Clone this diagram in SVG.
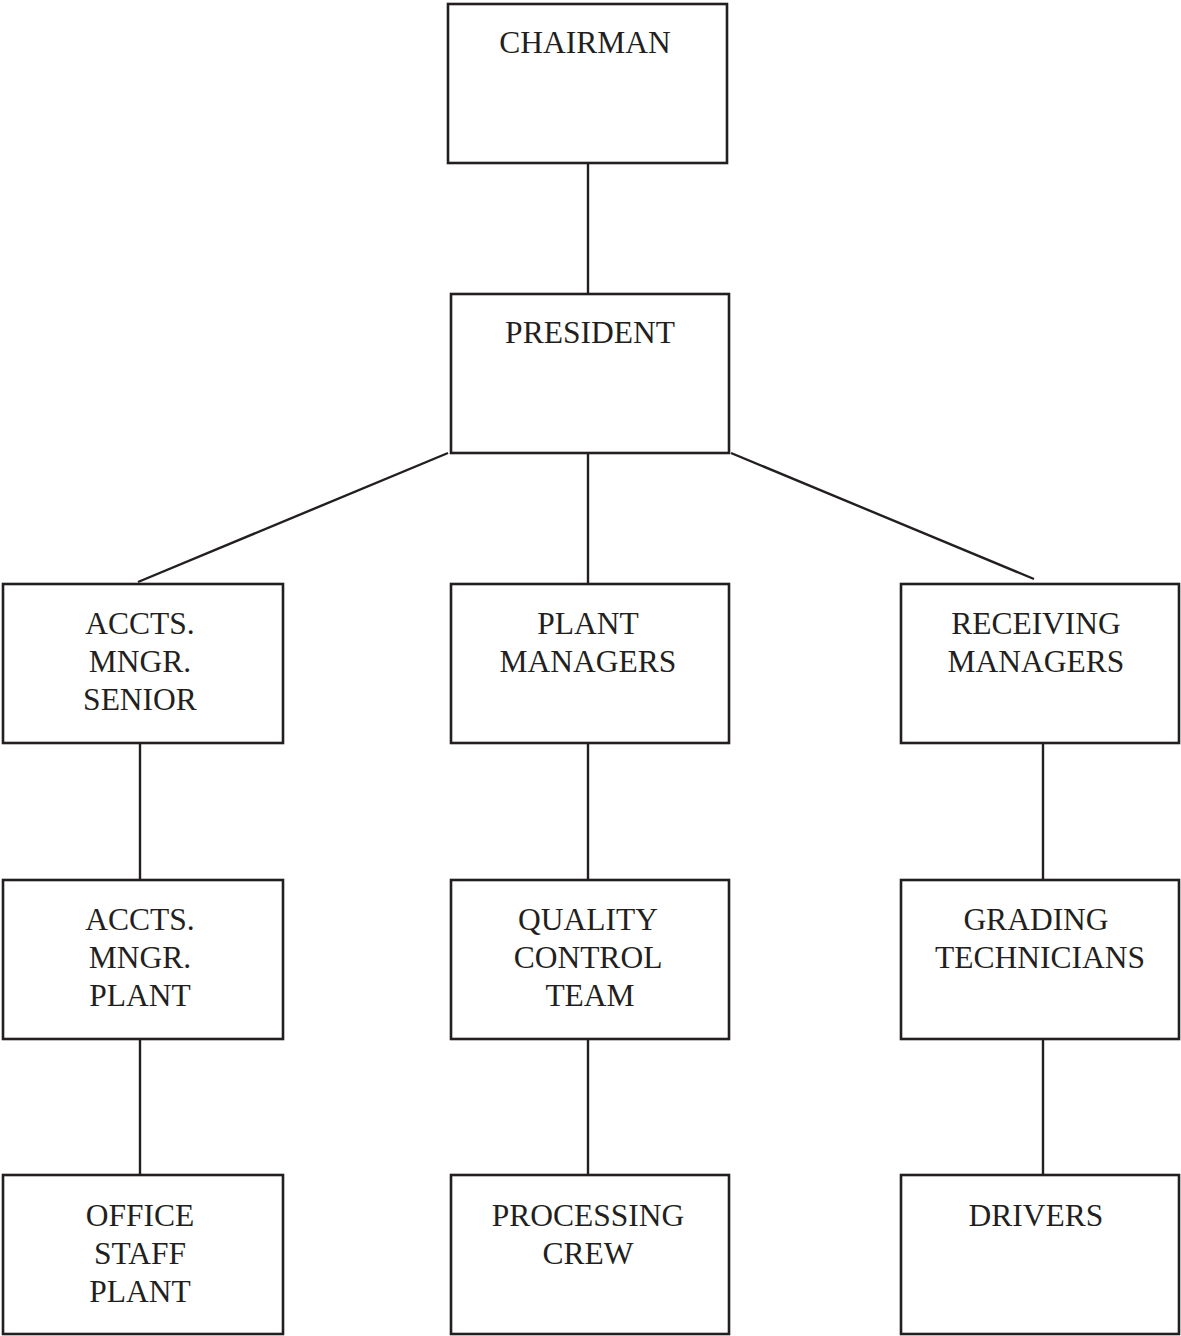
<svg xmlns="http://www.w3.org/2000/svg" width="1181" height="1336" viewBox="0 0 1181 1336">
<style>
.box{fill:#fff;stroke:#231f20;stroke-width:2.6}
.ln{stroke:#231f20;stroke-width:2.4;fill:none}
text{font-family:"Liberation Serif","Times New Roman",serif;font-size:31.5px;fill:#231f20;text-anchor:middle}
</style>
<rect width="1181" height="1336" fill="#fff"/>
<g id="connectors">
<line class="ln" x1="588" y1="163" x2="588" y2="294"/>
<line class="ln" x1="448" y1="453" x2="138" y2="582"/>
<line class="ln" x1="588" y1="453" x2="588" y2="584"/>
<line class="ln" x1="731" y1="453" x2="1034" y2="579"/>
<line class="ln" x1="140" y1="743" x2="140" y2="880"/>
<line class="ln" x1="588" y1="743" x2="588" y2="880"/>
<line class="ln" x1="1043" y1="743" x2="1043" y2="880"/>
<line class="ln" x1="140" y1="1039" x2="140" y2="1175"/>
<line class="ln" x1="588" y1="1039" x2="588" y2="1175"/>
<line class="ln" x1="1043" y1="1039" x2="1043" y2="1175"/>
</g>
<g id="chairman"><rect class="box" x="448" y="4" width="279" height="159"/><text x="585" y="53">CHAIRMAN</text></g>
<g id="president"><rect class="box" x="451" y="294" width="278" height="159"/><text x="590" y="343">PRESIDENT</text></g>
<g id="accts-senior"><rect class="box" x="3" y="584" width="280" height="159"/><text x="140" y="634">ACCTS.</text><text x="140" y="672">MNGR.</text><text x="140" y="710">SENIOR</text></g>
<g id="plant-managers"><rect class="box" x="451" y="584" width="278" height="159"/><text x="588" y="634">PLANT</text><text x="588" y="672">MANAGERS</text></g>
<g id="receiving-managers"><rect class="box" x="901" y="584" width="278" height="159"/><text x="1036" y="634">RECEIVING</text><text x="1036" y="672">MANAGERS</text></g>
<g id="accts-plant"><rect class="box" x="3" y="880" width="280" height="159"/><text x="140" y="930">ACCTS.</text><text x="140" y="968">MNGR.</text><text x="140" y="1006">PLANT</text></g>
<g id="quality-control"><rect class="box" x="451" y="880" width="278" height="159"/><text x="588" y="930">QUALITY</text><text x="588" y="968">CONTROL</text><text x="590" y="1006">TEAM</text></g>
<g id="grading"><rect class="box" x="901" y="880" width="278" height="159"/><text x="1036" y="930">GRADING</text><text x="1040" y="968">TECHNICIANS</text></g>
<g id="office-staff"><rect class="box" x="3" y="1175" width="280" height="159"/><text x="140" y="1226">OFFICE</text><text x="140" y="1264">STAFF</text><text x="140" y="1302">PLANT</text></g>
<g id="processing-crew"><rect class="box" x="451" y="1175" width="278" height="159"/><text x="588" y="1226">PROCESSING</text><text x="588" y="1264">CREW</text></g>
<g id="drivers"><rect class="box" x="901" y="1175" width="278" height="159"/><text x="1036" y="1226">DRIVERS</text></g>
</svg>
